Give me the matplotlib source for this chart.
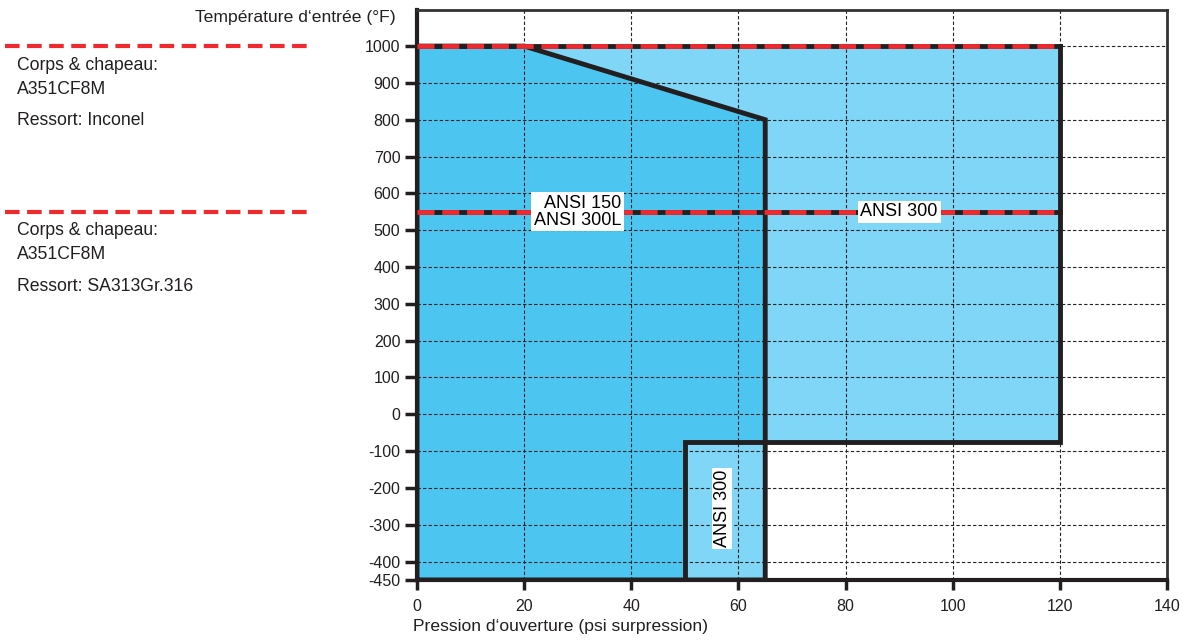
import numpy as np
import matplotlib
matplotlib.use("Agg")
import matplotlib.pyplot as plt

plt.rcParams['font.family'] = ['Liberation Sans', 'DejaVu Sans']
plt.rcParams['axes.unicode_minus'] = False

# envelope outlines (pressure psi, temperature F)
ansi150_x = [0, 0, 20, 65, 65, 50, 50]
ansi150_y = [-450, 1000, 1000, 800, -75, -75, -450]
ansi300_upper_x = [20, 120, 120, 65, 65]
ansi300_upper_y = [1000, 1000, -75, -75, 800]
ansi300_low_x = [50, 65, 65, 50]
ansi300_low_y = [-450, -450, -75, -75]

outline_a_x = [0, 0, 20, 65, 65, 0]
outline_a_y = [-450, 1000, 1000, 800, -450, -450]
outline_b_x = [50, 50, 120, 120]
outline_b_y = [-450, -75, -75, 1000]

limit_temps = [1000, 550]
limit_xmax = 120

x_ticks = [0, 20, 40, 60, 80, 100, 120, 140]
y_ticks = [-450, -400, -300, -200, -100, 0, 100, 200, 300, 400, 500, 600, 700, 800, 900, 1000]
y_grid = [-400, -300, -200, -100, 0, 100, 200, 300, 400, 500, 600, 700, 800, 900, 1000]
x_grid = [20, 40, 60, 80, 100, 120]

materials = [
    ["Corps & chapeau:", "A351CF8M", "Ressort: Inconel"],
    ["Corps & chapeau:", "A351CF8M", "Ressort: SA313Gr.316"],
]

dark_blue = '#4dc5f1'
light_blue = '#80d6f7'
red = '#ee2a2e'

fig = plt.figure(figsize=(11.83, 6.41), dpi=100)
ax = fig.add_axes([0.3525, 0.0952, 0.634, 0.8892])
ax.set_xlim(0, 140)
ax.set_ylim(-450, 1098)

ax.fill(ansi150_x, ansi150_y, color=dark_blue, lw=0, zorder=1)
ax.fill(ansi300_upper_x, ansi300_upper_y, color=light_blue, lw=0, zorder=1)
ax.fill(ansi300_low_x, ansi300_low_y, color=light_blue, lw=0, zorder=1)

for gx in x_grid:
    ax.axvline(gx, color='#222222', lw=0.8, ls=(0, (3, 2)), zorder=2)
for gy in y_grid:
    ax.axhline(gy, color='#222222', lw=0.8, ls=(0, (3, 2)), zorder=2)

ax.plot(outline_a_x, outline_a_y, color='#231f20', lw=3.5, zorder=3, solid_joinstyle='miter')
ax.plot(outline_b_x, outline_b_y, color='#231f20', lw=3.5, zorder=3, solid_joinstyle='miter')

for t in limit_temps:
    ax.plot([0, limit_xmax], [t, t], color='#231f20', lw=3.5, zorder=4)
    ax.plot([0, limit_xmax], [t, t], color=red, lw=3.5, ls=(0, (3.5, 1.6)), zorder=5)

box = dict(facecolor='white', edgecolor='none', pad=2)
ax.text(30, 550, "ANSI 150\nANSI 300L", ha='center', va='center', fontsize=13,
        linespacing=1.0, multialignment='right', bbox=box, zorder=6)
ax.text(90, 550, "ANSI 300", ha='center', va='center', fontsize=13, bbox=box, zorder=6)
ax.text(57, -256, "ANSI 300", ha='center', va='center', rotation=90, fontsize=13,
        bbox=dict(facecolor='white', edgecolor='none', pad=1), zorder=6)

# material notes on the left, outside the axes
tr = ax.get_yaxis_transform()
for t, lines in zip(limit_temps, materials):
    ax.plot([-0.549, -0.139], [t, t], transform=tr, clip_on=False, color=red, lw=3,
            ls=(0, (3.5, 1.8)))
    offs = [52, 117, 202]
    for line, off in zip(lines, offs):
        ax.text(-0.533, t - off, line, transform=tr, ha='left', va='center', fontsize=12.7,
                color='#231f20')

ax.set_xticks(x_ticks)
ax.set_yticks(y_ticks)
ax.tick_params(axis='both', labelsize=11.5, colors='#231f20', width=2.5, direction='out')
ax.tick_params(axis='y', length=9, pad=3)
ax.tick_params(axis='x', length=7, pad=7)

for side in ['left', 'bottom']:
    ax.spines[side].set_linewidth(3)
    ax.spines[side].set_color('#231f20')
for side in ['top', 'right']:
    ax.spines[side].set_linewidth(2)
    ax.spines[side].set_color('#333333')

fig.text(0.165, 0.972, "Température d‘entrée (°F)", fontsize=12.6, ha='left', va='center',
         color='#231f20')
fig.text(0.349, 0.022, "Pression d‘ouverture (psi surpression)", fontsize=12.6, ha='left',
         va='center', color='#231f20')

fig.savefig('out.png', dpi=100)
